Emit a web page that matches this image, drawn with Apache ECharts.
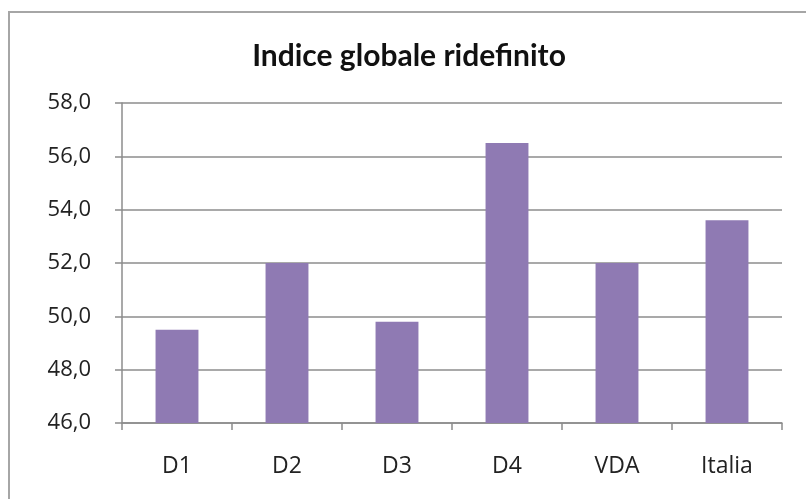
<!DOCTYPE html>
<html>
<head>
<meta charset="utf-8">
<script src="https://cdn.jsdelivr.net/npm/echarts@6/dist/echarts.min.js"></script>
<style>
  html, body { margin: 0; padding: 0; background: #fff; }
  #chart { width: 806px; height: 499px; }
</style>
</head>
<body>
<div id="chart"></div>
<script>
const categories = ['D1', 'D2', 'D3', 'D4', 'VDA', 'Italia']
const values = [49.5, 52.0, 49.8, 56.5, 52.0, 53.6]
const yMin = 46
const yMax = 58
const yStep = 2

const chart = echarts.init(document.getElementById('chart'))

const option = {
  animation: false,
  backgroundColor: '#fff',
  title: {
    text: 'Indice globale ridefinito',
    left: 404,
    textAlign: 'center',
    top: 36,
    textStyle: {
      fontFamily: 'Lato',
      fontWeight: 'bold',
      fontSize: 30,
      color: '#111'
    }
  },
  // cornice grigia del riquadro
  graphic: [{
    type: 'rect',
    shape: { x: 9, y: 12, width: 900, height: 600 },
    style: { fill: 'none', stroke: '#a6a6a6', lineWidth: 2 },
    silent: true
  }],
  grid: {
    left: 122,
    right: 24,
    top: 103,
    bottom: 76
  },
  xAxis: {
    type: 'category',
    data: categories,
    axisLine: { lineStyle: { color: '#8c8c8c', width: 1.5 } },
    axisTick: { show: true, length: 7, lineStyle: { color: '#8c8c8c', width: 1.5 } },
    axisLabel: {
      margin: 32,
      fontFamily: 'Open Sans',
      fontSize: 23,
      color: '#222'
    }
  },
  yAxis: {
    type: 'value',
    min: yMin,
    max: yMax,
    interval: yStep,
    axisLine: { show: true, lineStyle: { color: '#8c8c8c', width: 1.5 } },
    axisTick: { show: true, length: 7, lineStyle: { color: '#8c8c8c', width: 1.5 } },
    splitLine: { lineStyle: { color: '#8c8c8c', width: 1.5 } },
    axisLabel: {
      margin: 31,
      fontFamily: 'Open Sans',
      fontSize: 22,
      color: '#222',
      formatter: v => v.toFixed(1).replace('.', ',')
    }
  },
  series: [{
    type: 'bar',
    data: values,
    barCategoryGap: '61%',
    itemStyle: { color: '#8f7ab3' }
  }]
}

chart.setOption(option)
</script>
</body>
</html>
